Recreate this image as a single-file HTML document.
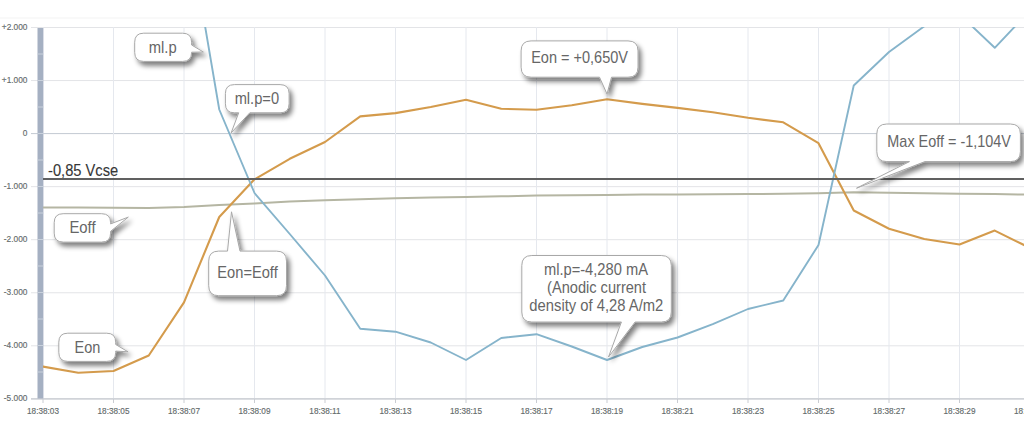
<!DOCTYPE html>
<html><head><meta charset="utf-8"><title>Chart</title>
<style>
html,body{margin:0;padding:0;background:#fff;}
body{width:1024px;height:439px;overflow:hidden;}
svg{display:block;}
.ax{font-family:"Liberation Sans",Arial,sans-serif;font-size:8.2px;fill:#656c6c;stroke:#656c6c;stroke-width:0.15px;}
.co{font-family:"Liberation Sans",Arial,sans-serif;font-size:15.7px;fill:#666;}
</style></head><body>
<svg width="1024" height="439" viewBox="0 0 1024 439">
<defs>
<filter id="sh" x="-20%" y="-20%" width="150%" height="160%">
<feGaussianBlur in="SourceAlpha" stdDeviation="2.7"/>
<feOffset dx="2.5" dy="3.5" result="b"/>
<feComponentTransfer><feFuncA type="linear" slope="0.5"/></feComponentTransfer>
<feMerge><feMergeNode/><feMergeNode in="SourceGraphic"/></feMerge>
</filter>
<clipPath id="plot"><rect x="43" y="27" width="981" height="372"/></clipPath>
</defs>
<rect width="1024" height="439" fill="#fff"/>
<line x1="0" y1="18" x2="1024" y2="18" stroke="#f3f3f3" stroke-width="1"/>

<line x1="31" y1="27.50" x2="1024" y2="27.50" stroke="#e3e4e7" stroke-width="1"/>
<line x1="31" y1="80.55" x2="1024" y2="80.55" stroke="#e3e4e7" stroke-width="1"/>
<line x1="31" y1="133.60" x2="1024" y2="133.60" stroke="#c3c9d2" stroke-width="1"/>
<line x1="31" y1="186.65" x2="1024" y2="186.65" stroke="#e3e4e7" stroke-width="1"/>
<line x1="31" y1="239.70" x2="1024" y2="239.70" stroke="#e3e4e7" stroke-width="1"/>
<line x1="31" y1="292.75" x2="1024" y2="292.75" stroke="#e3e4e7" stroke-width="1"/>
<line x1="31" y1="345.80" x2="1024" y2="345.80" stroke="#e3e4e7" stroke-width="1"/>
<line x1="43.0" y1="27" x2="43.0" y2="399" stroke="#e5e8ee" stroke-width="1"/>
<line x1="113.5" y1="27" x2="113.5" y2="399" stroke="#e5e8ee" stroke-width="1"/>
<line x1="184.0" y1="27" x2="184.0" y2="399" stroke="#e5e8ee" stroke-width="1"/>
<line x1="254.5" y1="27" x2="254.5" y2="399" stroke="#e5e8ee" stroke-width="1"/>
<line x1="325.0" y1="27" x2="325.0" y2="399" stroke="#e5e8ee" stroke-width="1"/>
<line x1="395.5" y1="27" x2="395.5" y2="399" stroke="#e5e8ee" stroke-width="1"/>
<line x1="466.0" y1="27" x2="466.0" y2="399" stroke="#e5e8ee" stroke-width="1"/>
<line x1="536.5" y1="27" x2="536.5" y2="399" stroke="#e5e8ee" stroke-width="1"/>
<line x1="607.0" y1="27" x2="607.0" y2="399" stroke="#e5e8ee" stroke-width="1"/>
<line x1="677.5" y1="27" x2="677.5" y2="399" stroke="#e5e8ee" stroke-width="1"/>
<line x1="748.0" y1="27" x2="748.0" y2="399" stroke="#e5e8ee" stroke-width="1"/>
<line x1="818.5" y1="27" x2="818.5" y2="399" stroke="#e5e8ee" stroke-width="1"/>
<line x1="889.0" y1="27" x2="889.0" y2="399" stroke="#e5e8ee" stroke-width="1"/>
<line x1="959.5" y1="27" x2="959.5" y2="399" stroke="#e5e8ee" stroke-width="1"/>
<line x1="1030.0" y1="27" x2="1030.0" y2="399" stroke="#e5e8ee" stroke-width="1"/>
<line x1="31" y1="398.8" x2="1024" y2="398.8" stroke="#d0d3d8" stroke-width="1.8"/>
<line x1="43.0" y1="399" x2="43.0" y2="403" stroke="#c9ccd2" stroke-width="1"/>
<line x1="113.5" y1="399" x2="113.5" y2="403" stroke="#c9ccd2" stroke-width="1"/>
<line x1="184.0" y1="399" x2="184.0" y2="403" stroke="#c9ccd2" stroke-width="1"/>
<line x1="254.5" y1="399" x2="254.5" y2="403" stroke="#c9ccd2" stroke-width="1"/>
<line x1="325.0" y1="399" x2="325.0" y2="403" stroke="#c9ccd2" stroke-width="1"/>
<line x1="395.5" y1="399" x2="395.5" y2="403" stroke="#c9ccd2" stroke-width="1"/>
<line x1="466.0" y1="399" x2="466.0" y2="403" stroke="#c9ccd2" stroke-width="1"/>
<line x1="536.5" y1="399" x2="536.5" y2="403" stroke="#c9ccd2" stroke-width="1"/>
<line x1="607.0" y1="399" x2="607.0" y2="403" stroke="#c9ccd2" stroke-width="1"/>
<line x1="677.5" y1="399" x2="677.5" y2="403" stroke="#c9ccd2" stroke-width="1"/>
<line x1="748.0" y1="399" x2="748.0" y2="403" stroke="#c9ccd2" stroke-width="1"/>
<line x1="818.5" y1="399" x2="818.5" y2="403" stroke="#c9ccd2" stroke-width="1"/>
<line x1="889.0" y1="399" x2="889.0" y2="403" stroke="#c9ccd2" stroke-width="1"/>
<line x1="959.5" y1="399" x2="959.5" y2="403" stroke="#c9ccd2" stroke-width="1"/>
<line x1="1030.0" y1="399" x2="1030.0" y2="403" stroke="#c9ccd2" stroke-width="1"/>
<rect x="37.5" y="28" width="5.8" height="370.5" fill="#a5b0c2"/>
<line x1="37.5" y1="54.0" x2="43.3" y2="54.0" stroke="#c9d1dc" stroke-width="1"/>
<line x1="37.5" y1="80.5" x2="43.3" y2="80.5" stroke="#c9d1dc" stroke-width="1"/>
<line x1="37.5" y1="107.0" x2="43.3" y2="107.0" stroke="#c9d1dc" stroke-width="1"/>
<line x1="37.5" y1="133.5" x2="43.3" y2="133.5" stroke="#c9d1dc" stroke-width="1"/>
<line x1="37.5" y1="160.0" x2="43.3" y2="160.0" stroke="#c9d1dc" stroke-width="1"/>
<line x1="37.5" y1="186.5" x2="43.3" y2="186.5" stroke="#c9d1dc" stroke-width="1"/>
<line x1="37.5" y1="213.0" x2="43.3" y2="213.0" stroke="#c9d1dc" stroke-width="1"/>
<line x1="37.5" y1="239.5" x2="43.3" y2="239.5" stroke="#c9d1dc" stroke-width="1"/>
<line x1="37.5" y1="266.0" x2="43.3" y2="266.0" stroke="#c9d1dc" stroke-width="1"/>
<line x1="37.5" y1="292.5" x2="43.3" y2="292.5" stroke="#c9d1dc" stroke-width="1"/>
<line x1="37.5" y1="319.0" x2="43.3" y2="319.0" stroke="#c9d1dc" stroke-width="1"/>
<line x1="37.5" y1="345.5" x2="43.3" y2="345.5" stroke="#c9d1dc" stroke-width="1"/>
<line x1="37.5" y1="372.0" x2="43.3" y2="372.0" stroke="#c9d1dc" stroke-width="1"/>
<text class="ax" x="27.4" y="29.8" text-anchor="end" style="font-size:8.3px">+2.000</text>
<text class="ax" x="27.4" y="82.8" text-anchor="end" style="font-size:8.3px">+1.000</text>
<text class="ax" x="27.4" y="135.9" text-anchor="end" style="font-size:8.3px">0</text>
<text class="ax" x="27.4" y="188.9" text-anchor="end" style="font-size:8.3px">-1.000</text>
<text class="ax" x="27.4" y="242.0" text-anchor="end" style="font-size:8.3px">-2.000</text>
<text class="ax" x="27.4" y="295.1" text-anchor="end" style="font-size:8.3px">-3.000</text>
<text class="ax" x="27.4" y="348.1" text-anchor="end" style="font-size:8.3px">-4.000</text>
<text class="ax" x="27.4" y="401.1" text-anchor="end" style="font-size:8.3px">-5.000</text>
<text class="ax" x="43.0" y="414.0" text-anchor="middle">18:38:03</text>
<text class="ax" x="113.5" y="414.0" text-anchor="middle">18:38:05</text>
<text class="ax" x="184.0" y="414.0" text-anchor="middle">18:38:07</text>
<text class="ax" x="254.5" y="414.0" text-anchor="middle">18:38:09</text>
<text class="ax" x="325.0" y="414.0" text-anchor="middle">18:38:11</text>
<text class="ax" x="395.5" y="414.0" text-anchor="middle">18:38:13</text>
<text class="ax" x="466.0" y="414.0" text-anchor="middle">18:38:15</text>
<text class="ax" x="536.5" y="414.0" text-anchor="middle">18:38:17</text>
<text class="ax" x="607.0" y="414.0" text-anchor="middle">18:38:19</text>
<text class="ax" x="677.5" y="414.0" text-anchor="middle">18:38:21</text>
<text class="ax" x="748.0" y="414.0" text-anchor="middle">18:38:23</text>
<text class="ax" x="818.5" y="414.0" text-anchor="middle">18:38:25</text>
<text class="ax" x="889.0" y="414.0" text-anchor="middle">18:38:27</text>
<text class="ax" x="959.5" y="414.0" text-anchor="middle">18:38:29</text>
<text class="ax" x="1030.0" y="414.0" text-anchor="middle">18:38:31</text>
<g clip-path="url(#plot)" fill="none" stroke-linejoin="round" stroke-linecap="round">
<polyline points="43.00,207.40 78.25,207.60 113.50,207.70 148.75,208.10 184.00,207.00 219.25,205.00 254.50,203.50 289.75,201.60 325.00,200.20 360.25,199.30 395.50,198.30 430.75,197.50 466.00,197.00 501.25,196.30 536.50,195.60 571.75,195.30 607.00,195.00 642.25,194.60 677.50,194.40 712.75,194.20 748.00,194.10 783.25,193.80 818.50,193.30 853.75,192.30 889.00,192.70 924.25,193.20 959.50,193.70 994.75,194.10 1030.00,194.60" stroke="#b5b6a3" stroke-width="2"/>
<polyline points="43.00,366.60 78.25,372.80 113.50,371.00 148.75,355.50 184.00,302.40 219.25,217.00 254.50,179.30 289.75,158.80 325.00,142.00 360.25,116.40 395.50,113.10 430.75,107.00 466.00,99.80 501.25,108.80 536.50,109.70 571.75,105.30 607.00,99.30 642.25,103.90 677.50,107.90 712.75,112.30 748.00,117.80 783.25,122.30 818.50,143.20 853.75,210.50 889.00,228.70 924.25,239.00 959.50,244.50 994.75,230.60 1030.00,248.00" stroke="#d49b4c" stroke-width="2.1"/>
<polyline points="184.00,-97.50 219.25,109.50 254.50,193.00 289.75,234.00 325.00,275.50 360.25,328.70 395.50,331.70 430.75,342.50 466.00,360.00 501.25,338.00 536.50,334.20 571.75,346.50 607.00,360.00 642.25,347.00 677.50,337.50 712.75,324.20 748.00,309.00 783.25,300.50 818.50,245.00 853.75,85.50 889.00,52.00 924.25,26.30 959.50,14.30 994.75,47.80 1030.00,10.60" stroke="#86b4cb" stroke-width="1.9"/>
</g>
<line x1="43" y1="178.9" x2="1024" y2="178.9" stroke="#606060" stroke-width="2"/>
<text x="48.0" y="175.7" textLength="70.2" lengthAdjust="spacingAndGlyphs" style="font-family:'Liberation Sans',Arial,sans-serif;font-size:16.2px;fill:#363636;stroke:#363636;stroke-width:0.1px">-0,85 Vcse</text>
<path d="M143.7,33.2 L182.6,33.2 Q191.6,33.2 191.6,42.2 L191.6,45.0 L203.4,52.0 L191.6,52.2 L191.6,52.4 Q191.6,61.4 182.6,61.4 L143.7,61.4 Q134.7,61.4 134.7,52.4 L134.7,42.2 Q134.7,33.2 143.7,33.2 Z" fill="#fff" stroke="#a8a8a8" stroke-width="1" filter="url(#sh)"/>
<text class="co" x="162.70" y="52.8" text-anchor="middle" textLength="27.9" lengthAdjust="spacingAndGlyphs">ml.p</text>
<path d="M234.4,84.6 L280.1,84.6 Q289.1,84.6 289.1,93.6 L289.1,103.8 Q289.1,112.8 280.1,112.8 L249.8,112.8 L231.2,132.8 L238.7,112.8 L234.4,112.8 Q225.4,112.8 225.4,103.8 L225.4,93.6 Q225.4,84.6 234.4,84.6 Z" fill="#fff" stroke="#a8a8a8" stroke-width="1" filter="url(#sh)"/>
<text class="co" x="256.85" y="103.9" text-anchor="middle" textLength="44.4" lengthAdjust="spacingAndGlyphs">ml.p=0</text>
<path d="M531.1,40.9 L628,40.9 Q638,40.9 638,50.9 L638,67.2 Q638,77.2 628,77.2 L611.5,77.2 L607.0,94.0 L599.5,77.2 L531.1,77.2 Q521.1,77.2 521.1,67.2 L521.1,50.9 Q521.1,40.9 531.1,40.9 Z" fill="#fff" stroke="#a8a8a8" stroke-width="1" filter="url(#sh)"/>
<text class="co" x="579.60" y="63.2" text-anchor="middle" textLength="96.9" lengthAdjust="spacingAndGlyphs">Eon = +0,650V</text>
<path d="M886.8,124 L1010.4,124 Q1020.4,124 1020.4,134 L1020.4,151.6 Q1020.4,161.6 1010.4,161.6 L924.9,161.6 L856.5,188.2 L909.5,161.6 L886.8,161.6 Q876.8,161.6 876.8,151.6 L876.8,134 Q876.8,124 886.8,124 Z" fill="#fff" stroke="#a8a8a8" stroke-width="1" filter="url(#sh)"/>
<text class="co" x="949.15" y="147.3" text-anchor="middle" textLength="123.6" lengthAdjust="spacingAndGlyphs">Max Eoff = -1,104V</text>
<path d="M63.2,213.7 L101.6,213.7 Q110.6,213.7 110.6,222.7 L110.6,223.9 L128.3,217.1 L110.6,231.3 L110.6,233.1 Q110.6,242.1 101.6,242.1 L63.2,242.1 Q54.2,242.1 54.2,233.1 L54.2,222.7 Q54.2,213.7 63.2,213.7 Z" fill="#fff" stroke="#a8a8a8" stroke-width="1" filter="url(#sh)"/>
<text class="co" x="82.50" y="233.0" text-anchor="middle" textLength="26.2" lengthAdjust="spacingAndGlyphs">Eoff</text>
<path d="M218.7,251.1 L227.5,251.1 L231.5,211.8 L240,251.1 L276.5,251.1 Q286.5,251.1 286.5,261.1 L286.5,285.7 Q286.5,295.7 276.5,295.7 L218.7,295.7 Q208.7,295.7 208.7,285.7 L208.7,261.1 Q208.7,251.1 218.7,251.1 Z" fill="#fff" stroke="#a8a8a8" stroke-width="1" filter="url(#sh)"/>
<text class="co" x="247.55" y="278.1" text-anchor="middle" textLength="60.4" lengthAdjust="spacingAndGlyphs">Eon=Eoff</text>
<path d="M67.8,333.2 L106.7,333.2 Q115.7,333.2 115.7,342.2 L115.7,344.5 L128,351.8 L115.7,351.1 L115.7,352.4 Q115.7,361.4 106.7,361.4 L67.8,361.4 Q58.8,361.4 58.8,352.4 L58.8,342.2 Q58.8,333.2 67.8,333.2 Z" fill="#fff" stroke="#a8a8a8" stroke-width="1" filter="url(#sh)"/>
<text class="co" x="87.50" y="352.7" text-anchor="middle" textLength="25.8" lengthAdjust="spacingAndGlyphs">Eon</text>
<path d="M531.8,255.5 L661.3,255.5 Q671.3,255.5 671.3,265.5 L671.3,312 Q671.3,322 661.3,322 L635.1,322 L608.5,357.0 L621.4,322 L531.8,322 Q521.8,322 521.8,312 L521.8,265.5 Q521.8,255.5 531.8,255.5 Z" fill="#fff" stroke="#a8a8a8" stroke-width="1" filter="url(#sh)"/>
<text class="co" x="595.95" y="275.0" text-anchor="middle" textLength="104.0" lengthAdjust="spacingAndGlyphs">ml.p=-4,280 mA</text>
<text class="co" x="596.55" y="293.0" text-anchor="middle" textLength="99.0" lengthAdjust="spacingAndGlyphs">(Anodic current</text>
<text class="co" x="596.35" y="311.4" text-anchor="middle" textLength="134.0" lengthAdjust="spacingAndGlyphs">density of 4,28 A/m2</text>
</svg></body></html>
